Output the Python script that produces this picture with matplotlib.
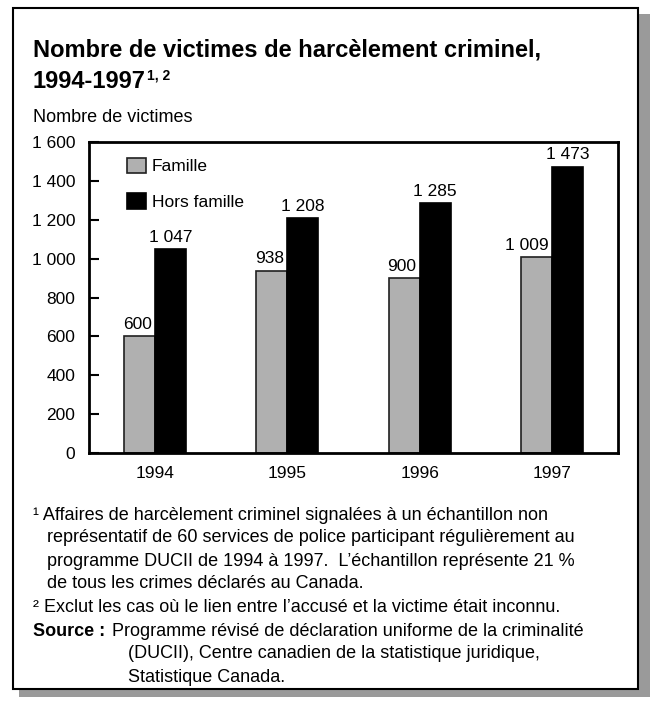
import matplotlib
matplotlib.use("Agg")
import matplotlib.pyplot as plt
from matplotlib.patches import Rectangle
import numpy as np

plt.rcParams['font.family'] = ['Liberation Sans', 'DejaVu Sans']

# Data
years = ["1994", "1995", "1996", "1997"]
famille = [600, 938, 900, 1009]
hors_famille = [1047, 1208, 1285, 1473]
yticks = [0, 200, 400, 600, 800, 1000, 1200, 1400, 1600]

def fmt(v):
    return "{:,}".format(v).replace(",", " ")

W, H = 650, 702
fig = plt.figure(figsize=(W / 100, H / 100), dpi=100)

def fx(px):
    return px / W

def fy(py):
    return 1 - py / H

# outer box with shadow
fig.patches.append(Rectangle((fx(19), fy(697)), fx(631), fy(14) - fy(697),
                             transform=fig.transFigure, facecolor="#9a9a9a",
                             edgecolor="none", zorder=-3))
fig.patches.append(Rectangle((fx(13), fy(689)), fx(625), fy(8) - fy(689),
                             transform=fig.transFigure, facecolor="white",
                             edgecolor="black", linewidth=1.5, zorder=-2))

fs = 12.5

# axes
ax = fig.add_axes([fx(89), fy(453), fx(618 - 89), fy(142) - fy(453)])
ax.patch.set_alpha(0)
x = np.arange(len(years))
w = 0.235
ax.bar(x - w / 2, famille, w, color="#b0b0b0", edgecolor="#202020", linewidth=1.2,
       label="Famille", zorder=2)
ax.bar(x + w / 2, hors_famille, w, color="black", edgecolor="black", linewidth=1.2,
       label="Hors famille", zorder=2)

for i in range(len(years)):
    ax.text(x[i] - 0.025, famille[i] + 22, fmt(famille[i]), ha="right",
            va="bottom", fontsize=fs)
    ax.text(x[i] + w / 2, hors_famille[i] + 22, fmt(hors_famille[i]), ha="center",
            va="bottom", fontsize=fs)

ax.set_xlim(-0.5, 3.5)
ax.set_ylim(0, 1600)
ax.set_yticks(yticks)
ax.set_yticklabels([fmt(v) for v in yticks], fontsize=fs)
ax.set_xticks(x)
ax.set_xticklabels(years, fontsize=fs)
ax.tick_params(axis="y", direction="in", length=7, width=1.5, pad=10)
ax.tick_params(axis="x", length=0, pad=9)
for s in ax.spines.values():
    s.set_linewidth(2)

leg = ax.legend(loc="upper left", bbox_to_anchor=(0.043, 1.0), frameon=False,
                fontsize=fs, handlelength=1.1, handleheight=1.0, labelspacing=1.1,
                handletextpad=0.3)

# titles
t2 = fig.text(fx(33), fy(81), "1994-1997", fontsize=17, fontweight="bold",
              va="center")
fig.text(fx(33), fy(50), "Nombre de victimes de harcèlement criminel,",
         fontsize=17, fontweight="bold", va="center")
fig.canvas.draw()
bb = t2.get_window_extent()
fig.text(bb.x1 / W + fx(1), fy(76), "1, 2", fontsize=10, fontweight="bold",
         va="center")
fig.text(fx(33), fy(117), "Nombre de victimes", fontsize=13, va="center")

# footnotes
notes = [
    (33, 515, "¹ Affaires de harcèlement criminel signalées à un échantillon non", False),
    (47, 538, "représentatif de 60 services de police participant régulièrement au", False),
    (47, 561, "programme DUCII de 1994 à 1997.  L\u2019échantillon représente 21 %", False),
    (47, 584, "de tous les crimes déclarés au Canada.", False),
    (33, 608, "² Exclut les cas où le lien entre l\u2019accusé et la victime était inconnu.", False),
    (33, 631, "Source :", True),
    (112, 631, "Programme révisé de déclaration uniforme de la criminalité", False),
    (128, 654, "(DUCII), Centre canadien de la statistique juridique,", False),
    (128, 677, "Statistique Canada.", False),
]
for px, py, s, b in notes:
    fig.text(fx(px), fy(py), s, fontsize=13, va="center",
             fontweight="bold" if b else "normal")

fig.savefig("out.png", dpi=100)
